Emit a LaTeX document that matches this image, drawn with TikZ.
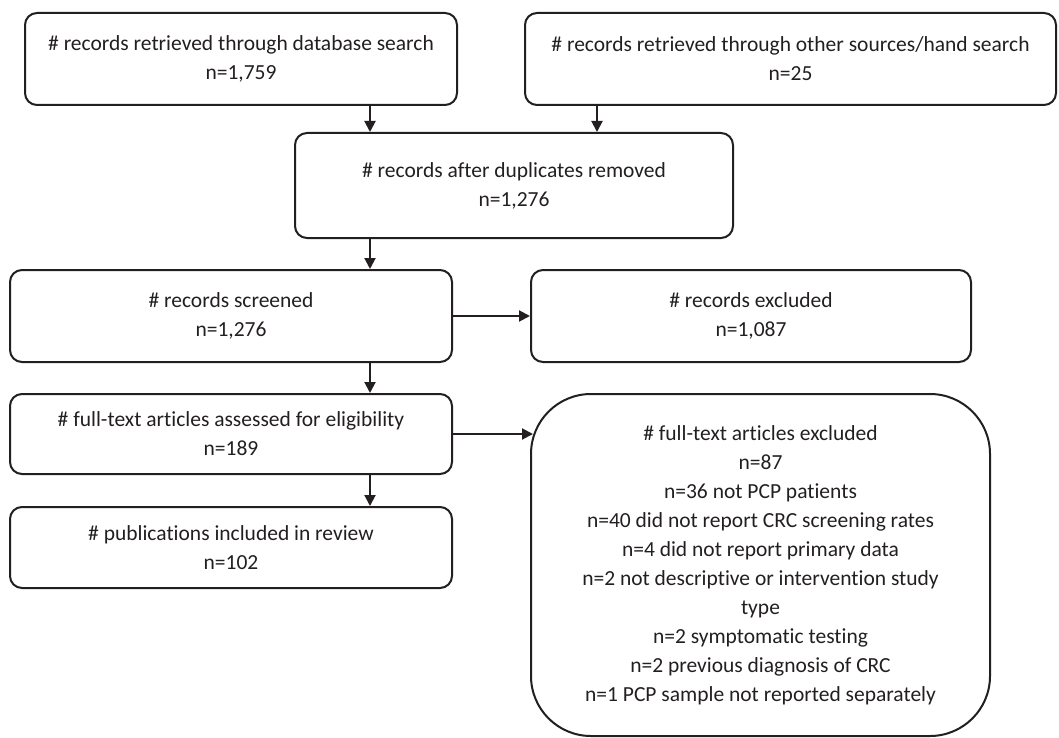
\documentclass[tikz,border=0pt]{standalone}
\usepackage{fontspec}
\setmainfont{Carlito}[RawFeature={-liga}]
\usetikzlibrary{arrows.meta}
\definecolor{ink}{HTML}{231F20}
\tikzset{
  box/.style={draw=ink, line width=2pt, rounded corners=12pt, inner sep=0pt,
    align=center, text=ink, font=\fontsize{21.5}{29}\selectfont},
  bigbox/.style={box, rounded corners=60pt},
  arr/.style={draw=ink, line width=2pt, -{Triangle[length=11pt,width=11pt]}}
}
\begin{document}
\begin{tikzpicture}[x=1pt,y=-1pt]
\useasboundingbox (0,0) rectangle (1059,738);
\node[box, minimum width=432pt, minimum height=92pt] (b1) at (241,59)
  {\# records retrieved through database search\\ n=1,759};
\node[box, minimum width=531pt, minimum height=92pt] (b2) at (790.5,59)
  {\# records retrieved through other sources/hand search\\ n=25};
\node[box, minimum width=438pt, minimum height=105pt] (b3) at (514,185.5)
  {\# records after duplicates removed\\ n=1,276};
\node[box, minimum width=442pt, minimum height=92pt] (b4) at (231,316)
  {\# records screened\\ n=1,276};
\node[box, minimum width=440pt, minimum height=92pt] (b5) at (751,316)
  {\# records excluded\\ n=1,087};
\node[box, minimum width=442pt, minimum height=80pt] (b6) at (231,434)
  {\# full-text articles assessed for eligibility\\ n=189};
\node[box, minimum width=442pt, minimum height=81pt] (b7) at (231,547.5)
  {\# publications included in review\\ n=102};
\node[bigbox, minimum width=459pt, minimum height=342pt] (b8) at (760.5,565)
  {\# full-text articles excluded\\ n=87\\ n=36 not PCP patients\\
   n=40 did not report CRC screening rates\\ n=4 did not report primary data\\
   n=2 not descriptive or intervention study\\ type\\ n=2 symptomatic testing\\
   n=2 previous diagnosis of CRC\\ n=1 PCP sample not reported separately};
\coordinate (c1) at (370,0);
\coordinate (c2) at (597,0);
\coordinate (t8) at (533,437);
\draw[arr] (b1.south -| c1) -- (b3.north -| c1);
\draw[arr] (b2.south -| c2) -- (b3.north -| c2);
\draw[arr] (b3.south -| c1) -- (b4.north -| c1);
\draw[arr] (b4.south -| c1) -- (b6.north -| c1);
\draw[arr] (b6.south -| c1) -- (b7.north -| c1);
\draw[arr] (b4.east) -- (b5.west);
\draw[arr] (b6.east) -- (t8 |- b6.east);
\end{tikzpicture}
\end{document}
